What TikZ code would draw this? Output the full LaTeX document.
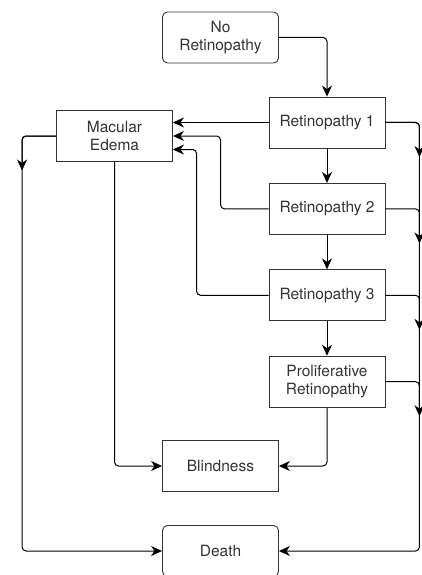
\documentclass[tikz,border=0pt]{standalone}
\usepackage{fontspec}
\setmainfont{TeX Gyre Heros}
\usetikzlibrary{calc,positioning,arrows.meta}

\begin{document}
\begin{tikzpicture}[x=1pt, y=1pt, node distance=34.5pt]
	\tikzstyle{state}=[draw=black!80, line width=0.9pt, text=black!80, align=center, minimum width=116pt, minimum height=51pt, inner sep=2pt, font=\fontsize{15.5}{18}\selectfont]
	\tikzstyle{rstate}=[state, rounded corners=5pt]
	\tikzstyle{flow}=[-{Stealth[length=11pt, width=10pt, inset=3.5pt]}, line width=1pt, rounded corners=4pt]

	\useasboundingbox (0,0) rectangle (422,-575);

	\node (nr) [rstate] at (220.5,-37.5) {No\\Retinopathy};
	\node (r1) [state] at (327,-122.5) {Retinopathy 1};
	\node (r2) [state, below=of r1] {Retinopathy 2};
	\node (r3) [state, below=of r2] {Retinopathy 3};
	\node (pr) [state, below=of r3] {Proliferative\\Retinopathy};
	\node (me) [state] at (114.5,-136) {Macular\\Edema};
	\node (bl) [state] at (220.5,-466) {Blindness};
	\node (de) [rstate] at (220.5,-551) {Death};

	% progression
	\draw[flow] (nr.east) -| (r1.north);
	\draw[flow] (r1.south) -- (r2.north);
	\draw[flow] (r2.south) -- (r3.north);
	\draw[flow] (r3.south) -- (pr.north);

	% edema
	\draw[flow] (r1.west) -- (r1.west -| me.east);
	\draw[flow] (r2.west) -- ++(-48,0) |- (me.east);
	\draw[flow] (r3.west) -- ++(-72,0) |- ($(me.east)+(0,-13.5)$);

	% blindness
	\draw[flow] (me.south) |- (bl.west);
	\draw[flow] (pr.south) |- (bl.east);

	% death
	\draw[flow] (r1.east) -- ++(34,0) |- (de.east);
	\draw[flow] (r1.east) -- ++(34,0) -- ++(0,-34.5);
	\draw[flow] (r2.east) -- ++(34,0) -- ++(0,-34.5);
	\draw[flow] (r3.east) -- ++(34,0) -- ++(0,-34.5);
	\draw[flow] (pr.east) -- ++(34,0) -- ++(0,-34.5);
	\draw[flow] (me.west) -- ++(-34,0) |- (de.west);
	\draw[flow] (me.west) -- ++(-34,0) -- ++(0,-34.5);
\end{tikzpicture}
\end{document}
